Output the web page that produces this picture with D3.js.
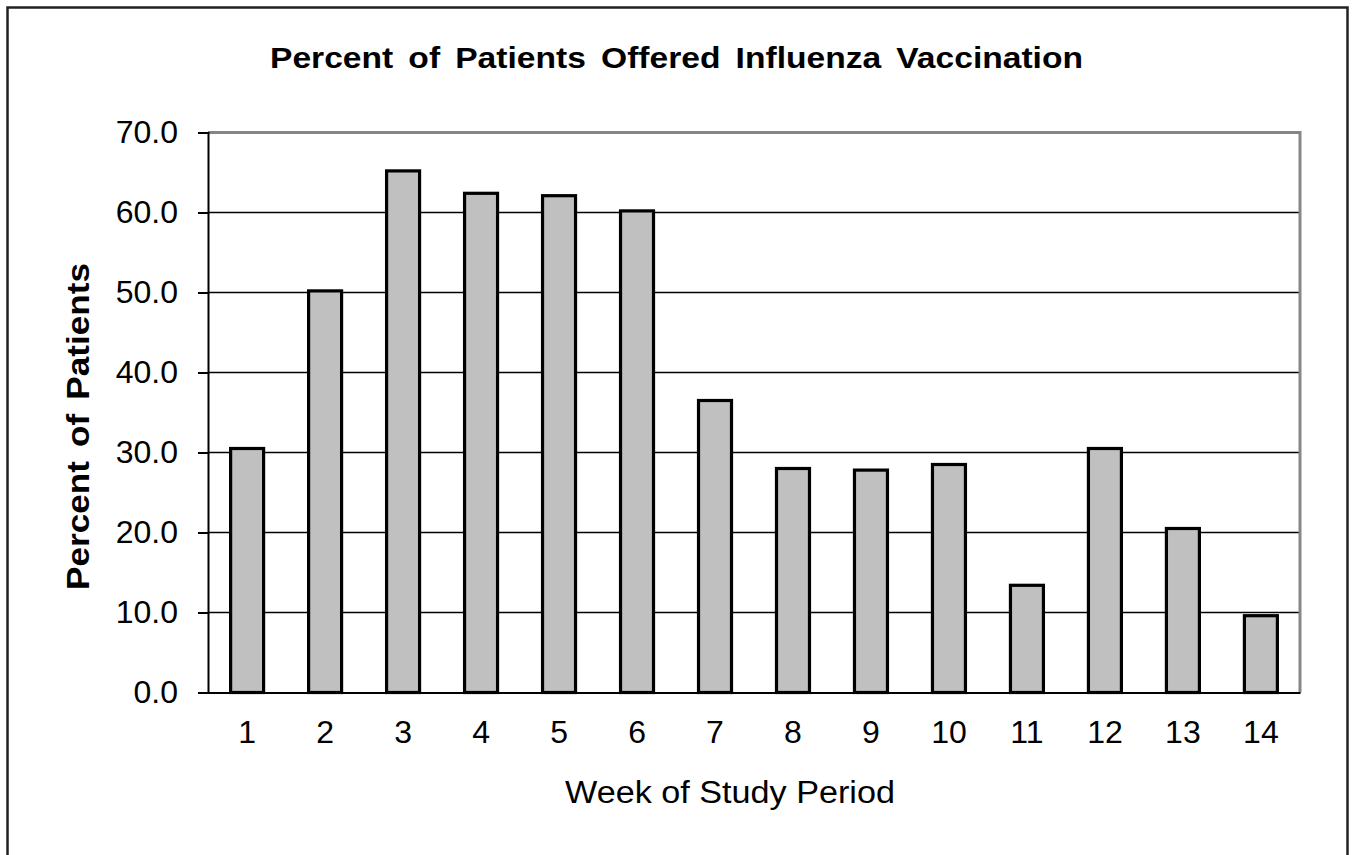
<!DOCTYPE html>
<html>
<head>
<meta charset="utf-8">
<script src="https://cdn.jsdelivr.net/npm/d3@7"></script>
<style>
  body { margin: 0; background: #fff; }
  text { font-family: "Liberation Sans", Arial, sans-serif; fill: #000; }
</style>
</head>
<body>
<div id="chart"></div>
<script>
// data
const weeks = [1, 2, 3, 4, 5, 6, 7, 8, 9, 10, 11, 12, 13, 14];
const percents = [30.5, 50.2, 65.2, 62.4, 62.1, 60.2, 36.5, 28.0, 27.8, 28.5, 13.4, 30.5, 20.5, 9.6];
const yTicks = [0, 10, 20, 30, 40, 50, 60, 70];

const w = 1355, h = 855;
const plotLeft = 208, plotRight = 1300, plotTop = 132.5, plotBottom = 692.5;

const svg = d3.select("#chart").append("svg").attr("width", w).attr("height", h);

// outer frame (bottom runs off the picture)
svg.append("rect")
  .attr("x", 7.5).attr("y", 7.5)
  .attr("width", 1340).attr("height", 900)
  .attr("fill", "none").attr("stroke", "#222").attr("stroke-width", 2.5);

const x = d3.scaleBand().domain(weeks).range([plotLeft, plotRight]).paddingInner(0.577).paddingOuter(0.29);
const y = d3.scaleLinear().domain([0, 70]).range([plotBottom, plotTop]);

// gridlines
svg.append("g")
  .selectAll("line")
  .data(yTicks.filter(d => d > 0 && d < 70))
  .enter()
  .append("line")
  .attr("x1", plotLeft).attr("x2", plotRight)
  .attr("y1", d => y(d)).attr("y2", d => y(d))
  .attr("stroke", "#000").attr("stroke-width", 1.6);

// plot frame top and right in gray
svg.append("path")
  .attr("d", `M${plotLeft},${plotTop}H${plotRight}V${plotBottom}`)
  .attr("fill", "none").attr("stroke", "#868686").attr("stroke-width", 3);

// bars
svg.append("g")
  .selectAll("rect")
  .data(weeks)
  .enter()
  .append("rect")
  .attr("x", d => x(d))
  .attr("y", (d, i) => y(percents[i]))
  .attr("width", x.bandwidth())
  .attr("height", (d, i) => y(0) - y(percents[i]))
  .attr("fill", "#c0c0c0")
  .attr("stroke", "#000")
  .attr("stroke-width", 3.2);

// y axis
const yAxis = d3.axisLeft(y).tickValues(yTicks).tickFormat(d3.format(".1f")).tickSize(10).tickPadding(20);
const gy = svg.append("g").attr("transform", `translate(${plotLeft},0)`).call(yAxis);
gy.select(".domain").attr("stroke", "#000").attr("stroke-width", 2);
gy.selectAll(".tick line").attr("stroke", "#000").attr("stroke-width", 2);
gy.selectAll(".tick text").attr("font-size", 32).attr("font-family", "Liberation Sans, Arial, sans-serif").attr("fill", "#000");

// x axis
const xAxis = d3.axisBottom(x).tickSize(0).tickPadding(28);
const gx = svg.append("g").attr("transform", `translate(0,${plotBottom})`).call(xAxis);
gx.select(".domain").attr("stroke", "#000").attr("stroke-width", 2);
gx.selectAll(".tick text").attr("font-size", 32).attr("font-family", "Liberation Sans, Arial, sans-serif").attr("fill", "#000");

// titles
svg.append("text")
  .attr("x", 676.5).attr("y", 68)
  .attr("text-anchor", "middle")
  .attr("font-size", 29).attr("font-weight", "bold")
  .attr("word-spacing", 5)
  .attr("textLength", 813).attr("lengthAdjust", "spacingAndGlyphs")
  .text("Percent of Patients Offered Influenza Vaccination");

svg.append("text")
  .attr("x", 730).attr("y", 803)
  .attr("text-anchor", "middle")
  .attr("font-size", 31)
  .attr("textLength", 330).attr("lengthAdjust", "spacingAndGlyphs")
  .text("Week of Study Period");

svg.append("text")
  .attr("transform", "translate(89,426.5) rotate(-90)")
  .attr("text-anchor", "middle")
  .attr("font-size", 32).attr("font-weight", "bold")
  .attr("word-spacing", 4)
  .attr("textLength", 327).attr("lengthAdjust", "spacingAndGlyphs")
  .text("Percent of Patients");
</script>
</body>
</html>
